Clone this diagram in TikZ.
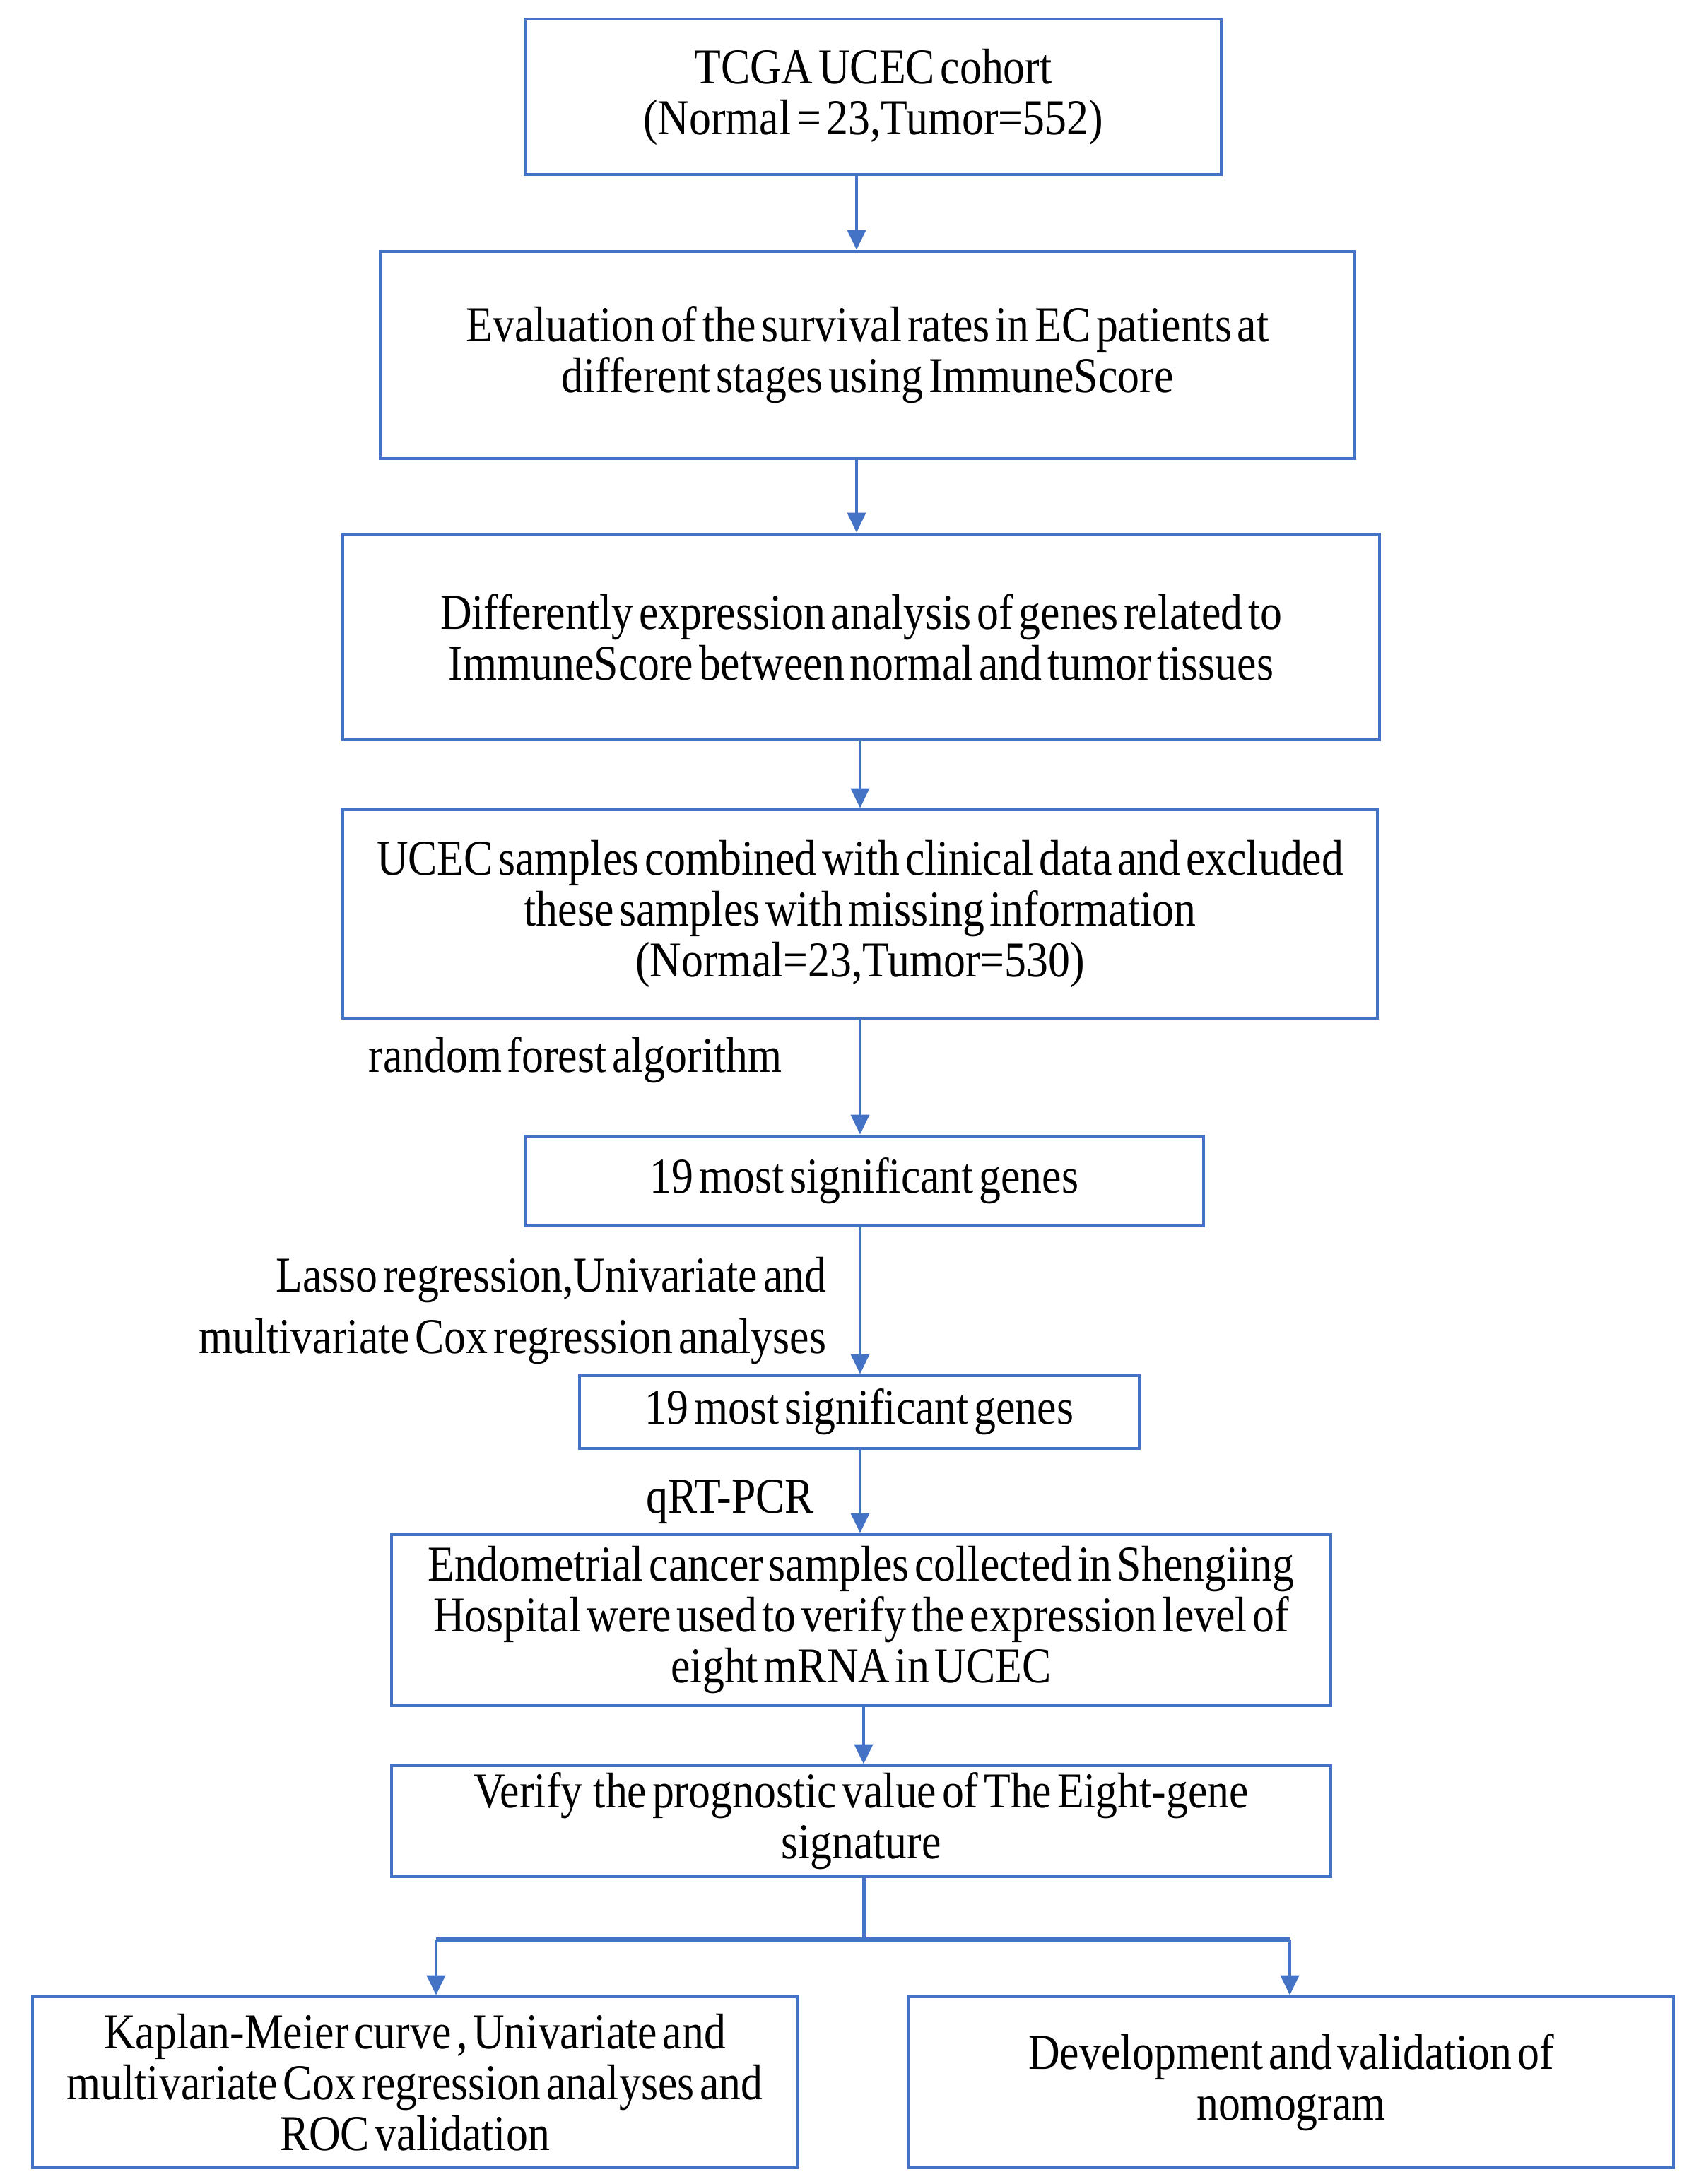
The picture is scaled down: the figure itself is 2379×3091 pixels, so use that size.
\documentclass[tikz,border=0pt]{standalone}
\usepackage{fontspec}
\setmainfont{Liberation Serif}[FakeStretch=0.87,WordSpace=0.5]
\usetikzlibrary{arrows.meta}
\definecolor{boxblue}{RGB}{68,114,196}

\begin{document}
\begin{tikzpicture}[x=0.25pt,y=-0.25pt]
\tikzset{Box/.style={draw=boxblue,line width=1.2pt,fill=white,align=center,inner sep=0pt,
  font=\fontsize{17.75}{18}\selectfont}}
\tikzset{Note/.style={inner sep=0pt,font=\fontsize{17.75}{21.75}\selectfont}}
\tikzset{EdgeStyle/.style={draw=boxblue,line width=1pt,-{Triangle[length=7pt,width=6.5pt]}}}
\useasboundingbox (0,0) rectangle (2379,3091);

\node[Box,minimum width=246.25pt,minimum height=55pt] (cohort) at (1235.5,137)
  {TCGA UCEC cohort\\(Normal = 23,Tumor=552)};
\node[Box,minimum width=344.75pt,minimum height=73.25pt] (survival) at (1227.5,502.5)
  {Evaluation of the survival rates in EC patients at\\different stages using ImmuneScore};
\node[Box,minimum width=366.75pt,minimum height=72.75pt] (degs) at (1218.5,901.5)
  {Differently expression analysis of genes related to\\ImmuneScore between normal and tumor tissues};
\node[Box,minimum width=366pt,minimum height=73.75pt] (clinical) at (1217,1293.5)
  {UCEC samples combined with clinical data and excluded\\these samples with missing information\\(Normal=23,Tumor=530)};
\node[Box,minimum width=240pt,minimum height=31.75pt] (genesA) at (1223,1671.5)
  {19 most significant genes};
\node[Box,minimum width=198pt,minimum height=25.75pt] (genesB) at (1216,1998.5)
  {19 most significant genes};
\node[Box,minimum width=332.25pt,minimum height=60.5pt] (pcr) at (1218.5,2293)
  {Endometrial cancer samples collected in Shengiing\\Hospital were used to verify the expression level of\\eight mRNA in UCEC};
\node[Box,minimum width=332.25pt,minimum height=39.25pt] (verify) at (1218.5,2577.5)
  {Verify~~the prognostic value of The Eight-gene\\signature};
\node[Box,minimum width=270.5pt,minimum height=60.5pt] (km) at (587,2947)
  {Kaplan-Meier curve , Univariate and\\multivariate Cox regression analyses and\\ROC validation};
\node[Box,minimum width=270.5pt,minimum height=60.5pt] (nomo) at (1827,2947)
  {Development and validation of\\nomogram};

% method labels
\node[Note,anchor=base] (rf) at (814,1517) {random forest algorithm};
\node[Note,anchor=east,align=right] (lasso) at (1170,1855)
  {Lasso regression,Univariate and\\multivariate Cox regression analyses};
\node[Note,anchor=base] (qpcr) at (1033,2141) {qRT-PCR};

% spine and fork
\coordinate (sp1) at (1212,0);
\coordinate (sp2) at (1217,0);
\coordinate (sp3) at (1222,0);
\coordinate (fork) at (1222,2745);
\coordinate (forkL) at (617,2745);
\coordinate (forkR) at (1825,2745);

\draw[EdgeStyle] (cohort.south -| sp1) -- (survival.north -| sp1);
\draw[EdgeStyle] (survival.south -| sp1) -- (degs.north -| sp1);
\draw[EdgeStyle] (degs.south -| sp2) -- (clinical.north -| sp2);
\draw[EdgeStyle] (clinical.south -| sp2) -- (genesA.north -| sp2);
\draw[EdgeStyle] (genesA.south -| sp2) -- (genesB.north -| sp2);
\draw[EdgeStyle] (genesB.south -| sp2) -- (pcr.north -| sp2);
\draw[EdgeStyle] (pcr.south -| sp3) -- (verify.north -| sp3);
\draw[draw=boxblue,line width=1.25pt] (verify.south -| sp3) -- (fork);
\draw[draw=boxblue,line width=1.75pt] (forkL) -- (forkR);
\draw[EdgeStyle] (forkL) -- (km.north -| forkL);
\draw[EdgeStyle] (forkR) -- (nomo.north -| forkR);
\end{tikzpicture}
\end{document}
